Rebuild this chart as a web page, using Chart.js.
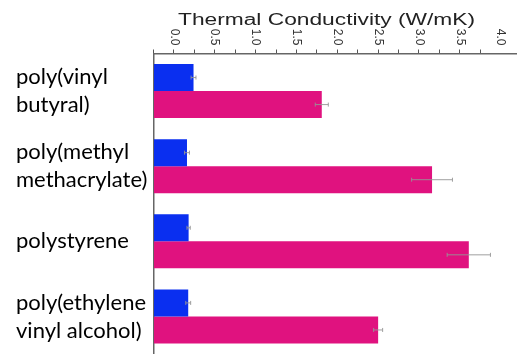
<!DOCTYPE html>
<html>
<head>
<meta charset="utf-8">
<script src="https://cdn.jsdelivr.net/npm/chart.js@4/dist/chart.umd.min.js"></script>
<style>
  html, body { margin: 0; padding: 0; background: #fff; overflow: hidden; }
  #wrap { position: relative; width: 517px; height: 354px; }
</style>
</head>
<body>
<div id="wrap"><canvas id="c" width="517" height="354"></canvas></div>
<script>
// Polymer categories (multi-line axis labels)
const polymers = [
  ['poly(vinyl', 'butyral)'],
  ['poly(methyl', 'methacrylate)'],
  ['polystyrene'],
  ['poly(ethylene', 'vinyl alcohol)']
];

// Thermal conductivity (W/mK): neat polymer vs. processed polymer
const neatValues = [0.24, 0.16, 0.18, 0.175];
const neatErrors = [0.03, 0.03, 0.02, 0.03];
const processedValues = [1.81, 3.16, 3.61, 2.50];
const processedErrors = [0.08, 0.25, 0.265, 0.055];

// Value axis
const axisMin = -0.25;
const axisMax = 4.2;
const tickLabels = ['0.0', '0.5', '1.0', '1.5', '2.0', '2.5', '3.0', '3.5', '4.0'];
const axisTitle = 'Thermal Conductivity (W/mK)';

// Whiskers drawn at each bar end, through the value scale
const errorBarPlugin = {
  id: 'errorBars',
  afterDatasetsDraw(chart) {
    const ctx = chart.ctx;
    const xs = chart.scales.x;
    chart.data.datasets.forEach((ds, i) => {
      const meta = chart.getDatasetMeta(i);
      meta.data.forEach((bar, j) => {
        const v = ds.data[j], e = ds.errors[j];
        const x1 = xs.getPixelForValue(v - e);
        const x2 = xs.getPixelForValue(v + e);
        const y = bar.y;
        ctx.save();
        ctx.strokeStyle = 'rgba(150,150,150,0.9)';
        ctx.lineWidth = 1;
        ctx.beginPath();
        ctx.moveTo(x1, y); ctx.lineTo(x2, y);
        ctx.moveTo(x1, y - 2); ctx.lineTo(x1, y + 2);
        ctx.moveTo(x2, y - 2); ctx.lineTo(x2, y + 2);
        ctx.stroke();
        ctx.restore();
      });
    });
  }
};

// Axis title and rotated tick labels on the top value axis
const topAxisTextPlugin = {
  id: 'topAxisText',
  afterDraw(chart) {
    const ctx = chart.ctx;
    const xs = chart.scales.x;
    ctx.save();
    ctx.fillStyle = '#333';
    ctx.font = '12px "Liberation Sans", Arial, sans-serif';
    ctx.textAlign = 'right';
    ctx.textBaseline = 'middle';
    tickLabels.forEach(lbl => {
      const x = xs.getPixelForValue(parseFloat(lbl));
      ctx.save();
      ctx.translate(x, xs.bottom - 8);
      ctx.rotate(Math.PI / 2);
      ctx.fillText(lbl, 0, 0);
      ctx.restore();
    });
    // stretched title
    ctx.fillStyle = '#222';
    ctx.font = '16px "Liberation Sans", Arial, sans-serif';
    ctx.textAlign = 'center';
    ctx.textBaseline = 'middle';
    const w = ctx.measureText(axisTitle).width;
    ctx.translate(326.5, 20.5);
    ctx.scale(297 / w, 1);
    ctx.fillText(axisTitle, 0, 0);
    ctx.restore();
  }
};

new Chart(document.getElementById('c'), {
  type: 'bar',
  data: {
    labels: polymers,
    datasets: [
      {
        label: 'neat',
        data: neatValues,
        errors: neatErrors,
        base: axisMin,
        backgroundColor: '#0a2ff0',
        borderWidth: 0
      },
      {
        label: 'processed',
        data: processedValues,
        errors: processedErrors,
        base: axisMin,
        backgroundColor: '#e0127f',
        borderWidth: 0
      }
    ]
  },
  options: {
    indexAxis: 'y',
    responsive: false,
    devicePixelRatio: 1,
    animation: false,
    layout: { padding: { top: 49.5, left: 16, right: 0, bottom: 0 } },
    datasets: { bar: { categoryPercentage: 0.72, barPercentage: 1.0 } },
    plugins: { legend: { display: false }, tooltip: { enabled: false } },
    scales: {
      x: {
        position: 'top',
        min: axisMin,
        max: axisMax,
        ticks: { display: false, stepSize: 0.25 },
        grid: { display: true, drawOnChartArea: false, drawTicks: true, tickLength: 4, color: '#555', lineWidth: 1 },
        border: { display: true, color: '#666', width: 1.5 },
        afterFit(scale) { scale.paddingLeft = 0; scale.paddingRight = 0; }
      },
      y: {
        position: 'left',
        grid: { display: false, drawTicks: false },
        border: { display: true, color: '#666', width: 1.5 },
        ticks: {
          crossAlign: 'far',
          padding: 0,
          color: '#000',
          font: { family: 'Lato', size: 22, lineHeight: 1.27 }
        },
        afterFit(scale) {
          scale.width = 137.5;
          scale.paddingTop = 0;
          scale.paddingBottom = 0;
        }
      }
    }
  },
  plugins: [errorBarPlugin, topAxisTextPlugin]
});
</script>
</body>
</html>
